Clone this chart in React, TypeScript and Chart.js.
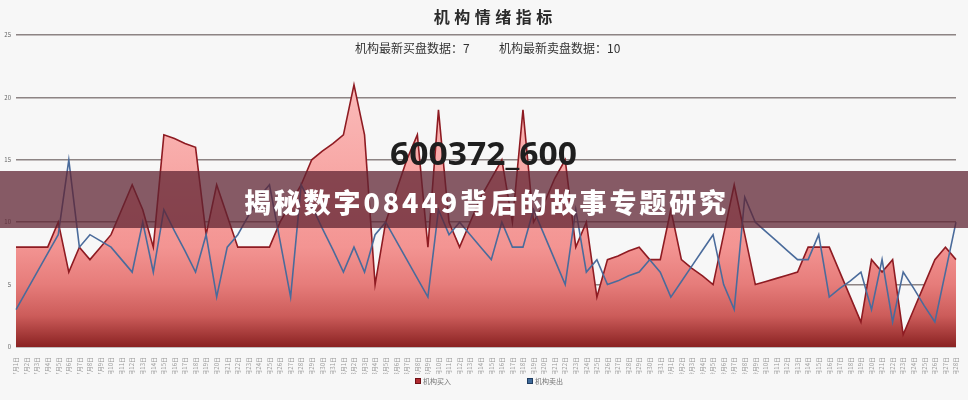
import React, { useEffect, useRef } from "react";
import { Chart, registerables } from "chart.js";

Chart.register(...registerables);

// Trading days: 7月1日 … 9月28日
const monthSpans = [
  { month: 7, days: 31 },
  { month: 8, days: 31 },
  { month: 9, days: 28 },
];
const dates: string[] = [];
for (const span of monthSpans) {
  for (let d = 1; d <= span.days; d++) dates.push(`${span.month}月${d}日`);
}

// 机构买入
const buyValues = [
  8, 8, 8, 8, 10, 6, 8, 7, 8, 9,
  11, 13, 11, 8, 17, 16.7, 16.3, 16, 9, 13,
  10.5, 8, 8, 8, 8, 10, 11.5, 13, 15, 15.7,
  16.3, 17, 21, 17, 5, 10, 12.5, 15, 17, 8,
  19, 10, 8, 10, 12, 13.5, 15, 10, 19, 10,
  11.5, 13.5, 15, 8, 10, 4, 7, 7.3, 7.7, 8,
  7, 7, 11, 7, 6.3, 5.7, 5, 9, 13, 9,
  5, 5.25, 5.5, 5.75, 6, 8, 8, 8, 6, 4,
  2, 7, 6, 7, 1, 3, 5, 7, 8, 7,
];

// 机构卖出
const sellValues = [
  3, 4.5, 6, 7.5, 9, 15, 8, 9, 8.5, 8,
  7, 6, 10, 6, 11, 9.3, 7.7, 6, 9, 4,
  8, 9, 10.5, 12, 13, 8.5, 4, 13, 11.3, 9.5,
  7.8, 6, 8, 6, 9, 10, 8.5, 7, 5.5, 4,
  11, 9, 10, 9, 8, 7, 10, 8, 8, 11,
  9, 7, 5, 11, 6, 7, 5, 5.3, 5.7, 6,
  7, 6, 4, 5.25, 6.5, 7.75, 9, 5, 3, 12,
  10, 9.25, 8.5, 7.75, 7, 7, 9, 4, 4.7, 5.3,
  6, 3, 7, 2, 6, 4.7, 3.3, 2, 6, 10,
];

const yMin = 0;
const yMax = 25;
const yStep = 5;

const seriesNames = ["机构买入", "机构卖出"];
const titleText = "机构情绪指标";
const stockCode = "600372_600";
const bannerText = "揭秘数字08449背后的故事专题研究";

const CJK = '"Noto Sans CJK SC", "Noto Sans", sans-serif';

function drawSpaced(
  ctx: CanvasRenderingContext2D,
  text: string,
  cx: number,
  y: number,
  totalWidth: number | null,
  spacing: number
) {
  const chars = Array.from(text);
  const widths = chars.map((c) => ctx.measureText(c).width);
  const sum = widths.reduce((a, b) => a + b, 0);
  const gap = totalWidth != null ? (totalWidth - sum) / (chars.length - 1) : spacing;
  const full = sum + gap * (chars.length - 1);
  let x = cx - full / 2;
  ctx.textAlign = "left";
  chars.forEach((c, i) => {
    ctx.fillText(c, x, y);
    x += widths[i] + gap;
  });
}

const decorPlugin = {
  id: "decor",
  beforeDraw(chart: any) {
    const { ctx, width, height } = chart;
    ctx.save();
    ctx.fillStyle = "#f7f7f7";
    ctx.fillRect(0, 0, width, height);
    ctx.restore();
  },
  afterDraw(chart: any) {
    const { ctx } = chart;
    ctx.save();
    ctx.textBaseline = "middle";

    // title
    ctx.fillStyle = "#2b2b2b";
    ctx.font = `bold 16px ${CJK}`;
    drawSpaced(ctx, titleText, 493, 17, null, 4.5);

    // latest buy / sell readings
    ctx.fillStyle = "#333";
    ctx.font = `12px ${CJK}`;
    ctx.textAlign = "left";
    ctx.fillText(`机构最新买盘数据：${buyValues[buyValues.length - 1]}`, 355, 48);
    ctx.fillText(`机构最新卖盘数据：${sellValues[sellValues.length - 1]}`, 499, 48);

    // stock code stamp
    ctx.fillStyle = "#1e1e1e";
    ctx.font = `bold 33px "Open Sans", "Liberation Sans", sans-serif`;
    ctx.textBaseline = "alphabetic";
    const codeW = ctx.measureText(stockCode).width;
    ctx.save();
    ctx.translate(390, 165);
    ctx.scale(187 / codeW, 1);
    ctx.fillText(stockCode, 0, 0);
    ctx.restore();

    // banner
    ctx.fillStyle = "rgba(95, 35, 50, 0.74)";
    ctx.fillRect(0, 171, chart.width, 57);
    ctx.fillStyle = "#ffffff";
    ctx.font = `900 27px ${CJK}`;
    ctx.textBaseline = "middle";
    drawSpaced(ctx, bannerText, 485, 203, 482, 0);

    // legend
    const items = [
      { x: 415, fill: "#b02a30", stroke: "#6e1015", label: seriesNames[0] },
      { x: 527, fill: "#3f6a9a", stroke: "#1f3c60", label: seriesNames[1] },
    ];
    ctx.font = `7px ${CJK}`;
    ctx.textAlign = "left";
    for (const it of items) {
      ctx.fillStyle = it.fill;
      ctx.fillRect(it.x, 378, 6, 6);
      ctx.strokeStyle = it.stroke;
      ctx.lineWidth = 1;
      ctx.strokeRect(it.x + 0.5, 378.5, 5, 5);
      ctx.fillStyle = "#777";
      ctx.fillText(it.label, it.x + 8, 381.5);
    }
    ctx.restore();
  },
};

export default function App() {
  const canvasRef = useRef<HTMLCanvasElement | null>(null);

  useEffect(() => {
    document.body.style.margin = "0";
    const canvas = canvasRef.current;
    if (!canvas) return;

    const areaFill = (context: any) => {
      const { chart } = context;
      const area = chart.chartArea;
      if (!area) return "rgba(240,140,140,0.8)";
      const g = chart.ctx.createLinearGradient(0, area.top, 0, area.bottom);
      g.addColorStop(0, "#fcc6c6");
      g.addColorStop(0.4, "#f8aaa8");
      g.addColorStop(0.68, "#f39492");
      g.addColorStop(0.8, "#e67c7a");
      g.addColorStop(0.9, "#cc5c5a");
      g.addColorStop(1, "#8a2222");
      return g;
    };

    const chart = new Chart(canvas, {
      type: "line",
      data: {
        labels: dates,
        datasets: [
          {
            label: seriesNames[0],
            data: buyValues,
            borderColor: "#8e1b22",
            borderWidth: 1.6,
            backgroundColor: areaFill,
            fill: "origin",
            pointRadius: 0,
            tension: 0,
            order: 1,
          },
          {
            label: seriesNames[1],
            data: sellValues,
            borderColor: "#4a6b9b",
            borderWidth: 1.6,
            fill: false,
            pointRadius: 0,
            tension: 0,
            order: 0,
          },
        ],
      },
      options: {
        responsive: false,
        maintainAspectRatio: false,
        animation: false,
        layout: { padding: { left: 0, right: 12, top: 35, bottom: 26 } },
        plugins: {
          legend: { display: false },
          tooltip: { enabled: false },
          title: { display: false },
        },
        scales: {
          x: {
            offset: false,
            grid: { display: false },
            border: { display: false },
            ticks: {
              autoSkip: false,
              minRotation: 90,
              maxRotation: 90,
              padding: 2,
              color: "#999",
              font: { size: 6, family: CJK },
            },
            afterFit: (s: any) => {
              s.height = 27;
            },
          },
          y: {
            min: yMin,
            max: yMax,
            z: 1,
            ticks: {
              stepSize: yStep,
              padding: 5,
              color: "#666",
              font: { size: 6, family: CJK },
            },
            grid: {
              color: "rgba(70, 55, 55, 0.6)",
              lineWidth: 1.5,
              drawTicks: false,
            },
            border: { display: false },
            afterFit: (s: any) => {
              s.width = 16;
            },
          },
        },
      },
      plugins: [decorPlugin],
    });

    return () => chart.destroy();
  }, []);

  return (
    <div style={{ width: 968, height: 400 }}>
      <canvas ref={canvasRef} width={968} height={400} style={{ display: "block" }} />
    </div>
  );
}
